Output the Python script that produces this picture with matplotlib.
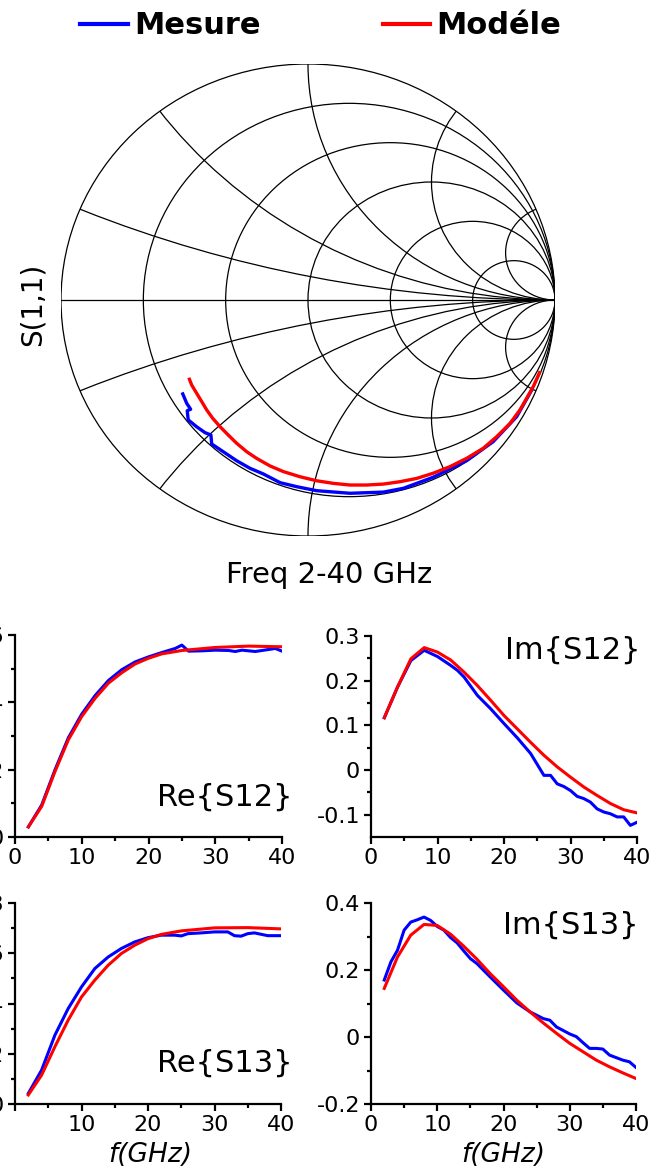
import numpy as np
import matplotlib
matplotlib.use("Agg")
import matplotlib.pyplot as plt
from matplotlib.patches import Circle

# ---- data ----
# S(1,1) on the Smith chart (reflection coefficient, real / imag)
s11_meas_re = [-0.507, -0.491, -0.475, -0.489, -0.485, -0.451, -0.417, -0.393, -0.390, -0.343,
               -0.289, -0.235, -0.181, -0.113, -0.046, 0.035, 0.170, 0.305, 0.386, 0.507,
               0.642, 0.750, 0.845, 0.906]
s11_meas_im = [-0.398, -0.438, -0.463, -0.469, -0.508, -0.537, -0.562, -0.572, -0.610, -0.643,
               -0.681, -0.713, -0.737, -0.774, -0.791, -0.808, -0.819, -0.814, -0.798, -0.751,
               -0.681, -0.600, -0.494, -0.381]
s11_model_re = [-0.480, -0.471, -0.451, -0.430, -0.410, -0.386, -0.356, -0.323, -0.289, -0.248,
                -0.208, -0.154, -0.100, -0.032, 0.035, 0.103, 0.170, 0.237, 0.305, 0.372,
                0.440, 0.507, 0.575, 0.642, 0.710, 0.764, 0.818, 0.858, 0.885, 0.912, 0.937]
s11_model_im = [-0.336, -0.360, -0.395, -0.431, -0.466, -0.501, -0.537, -0.572, -0.607, -0.643,
                -0.671, -0.703, -0.727, -0.749, -0.766, -0.777, -0.784, -0.784, -0.780, -0.770,
                -0.756, -0.734, -0.706, -0.671, -0.628, -0.579, -0.523, -0.466, -0.417, -0.367,
                -0.308]

# Re{S12}
f_re12_meas = [2, 4, 6, 8, 10, 12, 14, 16, 18, 20, 22, 24, 25, 26, 28, 30, 32, 33, 34, 36, 38, 39, 40]
re12_meas = [0.03, 0.095, 0.2, 0.295, 0.365, 0.42, 0.465, 0.497, 0.52, 0.535, 0.548, 0.56, 0.57,
             0.552, 0.553, 0.555, 0.554, 0.551, 0.555, 0.551, 0.557, 0.56, 0.552]
f_re12_mod = [2, 4, 6, 8, 10, 12, 14, 16, 18, 20, 22, 25, 30, 35, 40]
re12_mod = [0.03, 0.091, 0.195, 0.289, 0.358, 0.412, 0.457, 0.488, 0.514, 0.531, 0.544, 0.554,
            0.563, 0.567, 0.565]

# Im{S12}
f_im12_meas = [2, 4, 6, 8, 10, 12, 13, 14, 16, 18, 20, 22, 24, 26, 27, 28, 29, 30, 31, 32, 33,
               34, 35, 36, 37, 38, 39, 40]
im12_meas = [0.117, 0.186, 0.245, 0.268, 0.254, 0.234, 0.223, 0.208, 0.167, 0.137, 0.104, 0.072,
             0.037, -0.012, -0.012, -0.031, -0.037, -0.046, -0.059, -0.064, -0.072, -0.087,
             -0.094, -0.098, -0.105, -0.105, -0.124, -0.117]
f_im12_mod = [2, 4, 6, 8, 10, 12, 14, 16, 18, 20, 22, 24, 26, 28, 30, 32, 34, 36, 38, 40]
im12_mod = [0.117, 0.186, 0.249, 0.274, 0.264, 0.246, 0.219, 0.189, 0.156, 0.122, 0.092, 0.062,
            0.033, 0.007, -0.016, -0.038, -0.057, -0.075, -0.089, -0.096]

# Re{S13}
f_re13_meas = [2, 4, 6, 8, 10, 12, 14, 16, 18, 20, 22, 24, 25, 26, 28, 30, 32, 33, 34, 35, 36, 38, 40]
re13_meas = [0.042, 0.135, 0.274, 0.380, 0.466, 0.539, 0.585, 0.619, 0.645, 0.662, 0.672, 0.672,
             0.669, 0.678, 0.681, 0.685, 0.685, 0.670, 0.668, 0.678, 0.681, 0.670, 0.670]
f_re13_mod = [2, 4, 6, 8, 10, 12, 14, 16, 18, 20, 22, 25, 30, 35, 40]
re13_mod = [0.036, 0.115, 0.228, 0.334, 0.426, 0.493, 0.552, 0.599, 0.632, 0.658, 0.675, 0.689,
            0.701, 0.702, 0.697]

# Im{S13}
f_im13_meas = [2, 3, 4, 5, 6, 7, 8, 9, 10, 11, 12, 13, 14, 15, 16, 18, 20, 22, 24, 26, 27, 28,
               30, 31, 32, 33, 34, 35, 36, 38, 39, 40]
im13_meas = [0.170, 0.224, 0.259, 0.319, 0.343, 0.350, 0.358, 0.348, 0.330, 0.319, 0.297, 0.281,
             0.257, 0.234, 0.219, 0.179, 0.140, 0.102, 0.075, 0.055, 0.050, 0.030, 0.009, 0.001,
             -0.017, -0.034, -0.034, -0.036, -0.054, -0.069, -0.074, -0.091]
f_im13_mod = [2, 4, 6, 8, 10, 12, 14, 16, 18, 20, 22, 24, 26, 28, 30, 32, 34, 36, 38, 40]
im13_mod = [0.145, 0.239, 0.304, 0.336, 0.333, 0.307, 0.271, 0.232, 0.189, 0.150, 0.110, 0.075,
            0.042, 0.011, -0.019, -0.044, -0.069, -0.089, -0.107, -0.124]

r_values = [0.2, 0.5, 1, 2, 5]
x_values = [0.2, 0.5, 1, 2, 5]

BLUE = (0, 0, 1)
RED = (1, 0, 0)
W, H = 665, 1171

fig = plt.figure(figsize=(W / 100, H / 100), dpi=100)


def box(left, top, right, bottom):
    return [left / W, 1 - bottom / H, (right - left) / W, (bottom - top) / H]


# ---- Smith chart ----
ax = fig.add_axes(box(61, 64, 555, 536))
ax.set_xlim(-1, 1)
ax.set_ylim(-1, 1)
ax.axis("off")

outer = Circle((0, 0), 1, fill=False, lw=0.9, color="black")
ax.add_patch(outer)
ax.plot([-1, 1], [0, 0], color="black", lw=0.9)
for r in r_values:
    ax.add_patch(Circle((r / (1 + r), 0), 1 / (1 + r), fill=False, lw=0.9, color="black"))
for x in x_values:
    for s in (1, -1):
        c = Circle((1, s / x), 1 / x, fill=False, lw=0.9, color="black")
        ax.add_patch(c)
        c.set_clip_path(outer)

l1, = ax.plot(s11_meas_re, s11_meas_im, color=BLUE, lw=2.4)
l2, = ax.plot(s11_model_re, s11_model_im, color=RED, lw=2.4)

fig.text(33 / W, 1 - 304 / H, "S(1,1)", rotation=90, fontsize=20, ha="center", va="center")
fig.text(329 / W, 1 - 575 / H, "Freq 2-40 GHz", fontsize=21, ha="center", va="center")

leg = fig.legend([l1, l2], ["Mesure", "Modéle"], loc="center", bbox_to_anchor=(0.482, 1 - 26 / H),
                 ncol=2, frameon=False, prop={"weight": "bold", "size": 22},
                 handlelength=1.55, handletextpad=0.2, columnspacing=4.0)
for ln in leg.get_lines():
    ln.set_linewidth(3.0)


# ---- small panels ----
def panel(rect, fm, ym, fmod, ymod, ylim, yticks, ylabels, minor_y, label, label_xy, xlabels):
    a = fig.add_axes(box(*rect))
    a.plot(fm, ym, color=BLUE, lw=2.2)
    a.plot(fmod, ymod, color=RED, lw=2.2)
    a.set_xlim(0, 40)
    a.set_ylim(*ylim)
    a.set_xticks([0, 10, 20, 30, 40])
    a.set_xticklabels(xlabels)
    a.set_xticks([5, 15, 25, 35], minor=True)
    a.set_yticks(yticks)
    a.set_yticklabels(ylabels)
    a.set_yticks(minor_y, minor=True)
    for side in ("top", "right"):
        a.spines[side].set_visible(False)
    for side in ("left", "bottom"):
        a.spines[side].set_linewidth(1.6)
    a.tick_params(which="major", direction="out", length=5, width=1.6, labelsize=16, pad=3)
    a.tick_params(which="minor", direction="out", length=3, width=1.6)
    a.patch.set_alpha(0)
    fig.text(label_xy[0] / W, 1 - label_xy[1] / H, label, fontsize=22, ha="right", va="center")
    return a


xl_full = ["0", "10", "20", "30", "40"]
xl_no0 = ["", "10", "20", "30", "40"]

panel((15, 635, 282, 837), f_re12_meas, re12_meas, f_re12_mod, re12_mod,
      (0, 0.6), [0, 0.2, 0.4, 0.6], ["0", "0.2", "0.4", "0.6"], [0.1, 0.3, 0.5],
      "Re{S12}", (292, 797), xl_full)
panel((371, 636, 637, 837), f_im12_meas, im12_meas, f_im12_mod, im12_mod,
      (-0.15, 0.3), [-0.1, 0, 0.1, 0.2, 0.3], ["-0.1", "0", "0.1", "0.2", "0.3"],
      [-0.05, 0.05, 0.15, 0.25], "Im{S12}", (641, 650), xl_full)
panel((15, 903, 281, 1104), f_re13_meas, re13_meas, f_re13_mod, re13_mod,
      (0, 0.8), [0, 0.2, 0.4, 0.6, 0.8], ["0", "0.2", "0.4", "0.6", "0.8"],
      [0.1, 0.3, 0.5, 0.7], "Re{S13}", (293, 1063), xl_no0)
panel((371, 903, 636, 1104), f_im13_meas, im13_meas, f_im13_mod, im13_mod,
      (-0.2, 0.4), [-0.2, 0, 0.2, 0.4], ["-0.2", "0", "0.2", "0.4"],
      [-0.1, 0.1, 0.3], "Im{S13}", (639, 925), xl_full)

fig.text(150 / W, 1 - 1155 / H, "f(GHz)", fontsize=19, style="italic", ha="center", va="center")
fig.text(503 / W, 1 - 1155 / H, "f(GHz)", fontsize=19, style="italic", ha="center", va="center")

fig.savefig("out.png", dpi=100)
